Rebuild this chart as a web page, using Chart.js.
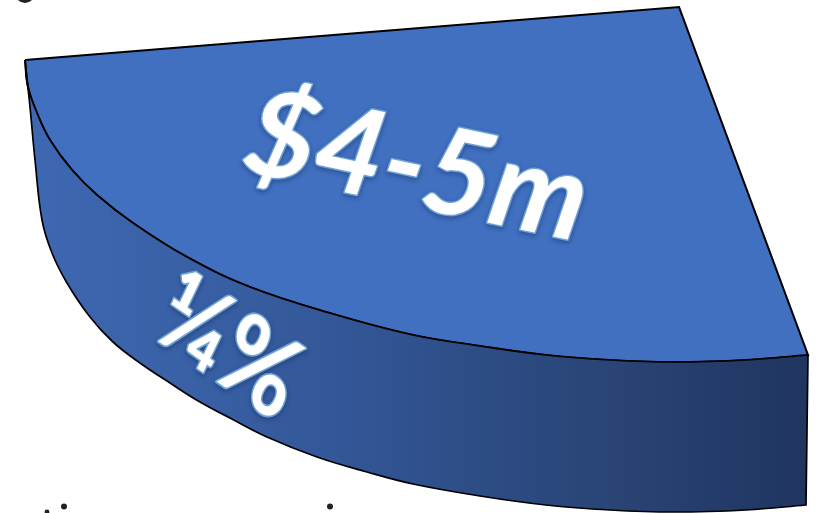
<!DOCTYPE html>
<html><head><meta charset="utf-8">
<style>html,body{margin:0;padding:0;background:#fff;overflow:hidden}canvas{display:block}</style>
<script src="https://cdn.jsdelivr.net/npm/chart.js@4"></script>
</head><body><canvas id="c" width="826" height="513" style="width:826px;height:513px"></canvas>
<script>
const topX=[25,25,679,679,808,808,746,673,610,546,480,413,333,250,187,133,97,72,50,37,28,25,25];
const topY=[60,60,7,7,355,355,360,362,360,355,346,335,314,287,257,223,195,170,140,113,87,60,60];
const sideX=[25,25,30,35,42,52,67,90,113,140,170,200,230,267,317,367,413,480,546,610,673,746,806,806,808,808,746,673,610,546,480,413,333,250,187,133,97,72,50,37,28,25,25];
const sideY=[60,60,107,160,220,253,283,317,342,363,383,402,418,437,457,472,484,496,505,510,512,510,505,505,355,355,360,362,360,355,346,335,314,287,257,223,195,170,140,113,87,60,60];
const fragX=[64,330,47,25];
const fragY=[506.5,506.5,512,-7];
const fragR=[3,3,2.4,10];
const labels=["$4-5m","¼%"];
const labelX=[240,149];
const labelY=[170,335];
const labelAngle=[12,30];
const labelStretch=[1,1.2];
const labelFont=["italic 700 120px Lato","700 95px Lato"];
const pts=(xs,ys)=>xs.map((x,i)=>({x,y:ys[i]}));
const sideStops=[[0,"#3e68b2"],[0.25,"#385fa3"],[0.5,"#30518e"],[0.75,"#294475"],[1,"#203560"]];
const textPlugin={id:"txt",afterDatasetsDraw(ch){
  const g=ch.ctx,sx=ch.scales.x,sy=ch.scales.y;
  labels.forEach((t,i)=>{
    g.save();
    g.translate(sx.getPixelForValue(labelX[i]),sy.getPixelForValue(labelY[i]));
    g.scale(1,labelStretch[i]);
    g.rotate(labelAngle[i]*Math.PI/180);
    g.font=labelFont[i];g.textBaseline="alphabetic";g.textAlign="left";g.lineJoin="round";
    g.shadowColor="rgba(20,40,90,.55)";g.shadowBlur=4;g.shadowOffsetY=2;
    g.strokeStyle="#6ea3d6";g.lineWidth=3;g.strokeText(t,0,0);
    g.shadowColor="transparent";
    g.fillStyle="#fff";g.fillText(t,0,0);
    g.restore();
  });
}};
new Chart(document.getElementById("c"),{
  type:"scatter",
  data:{datasets:[
    {data:pts(sideX,sideY),showLine:true,fill:"shape",borderColor:"#000",borderWidth:1.7,pointRadius:0,tension:0.4,clip:false,
     backgroundColor:(c)=>{const ch=c.chart;if(!ch.chartArea)return "#30518e";
       const gr=ch.ctx.createLinearGradient(ch.scales.x.getPixelForValue(25),0,ch.scales.x.getPixelForValue(808),0);
       sideStops.forEach(s=>gr.addColorStop(s[0],s[1]));return gr;}},
    {data:pts(topX,topY),showLine:true,fill:"shape",borderColor:"#000",borderWidth:2.1,backgroundColor:"#4170c0",pointRadius:0,tension:0.4,clip:false},
    {data:pts(fragX,fragY),showLine:false,pointRadius:fragR,backgroundColor:"#222",borderWidth:0,clip:false}
  ]},
  options:{responsive:false,animation:false,events:[],devicePixelRatio:1,
    layout:{padding:0,autoPadding:false},
    plugins:{legend:{display:false},title:{display:false},tooltip:{enabled:false}},
    scales:{x:{type:"linear",min:0,max:826,display:false},y:{type:"linear",min:0,max:513,reverse:true,display:false}}
  },
  plugins:[textPlugin]
});
</script></body></html>
